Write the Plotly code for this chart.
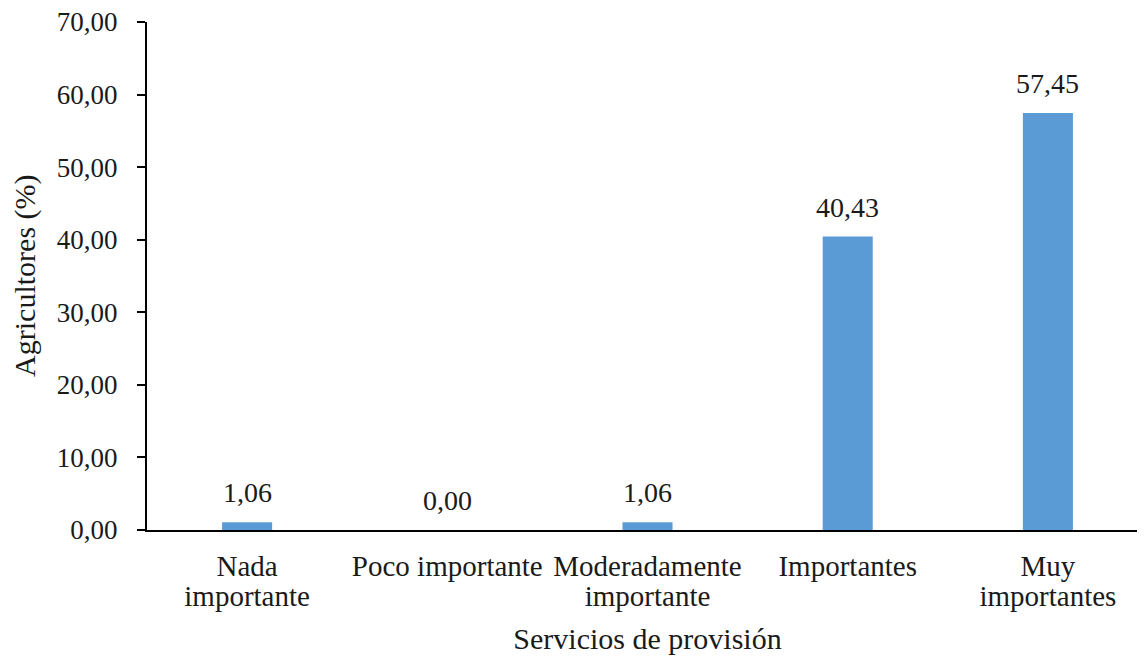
import plotly.graph_objects as go

categories = ["Nada importante", "Poco importante", "Moderadamente importante", "Importantes", "Muy importantes"]
label_line1 = ["Nada", "Poco importante", "Moderadamente", "Importantes", "Muy"]
label_line2 = ["importante", "", "importante", "", "importantes"]
values = [1.06, 0.00, 1.06, 40.43, 57.45]
y_ticks = [0, 10, 20, 30, 40, 50, 60, 70]
x_title = "Servicios de provisión"
y_title = "Agricultores (%)"

FONT = "Liberation Serif"
TXT = "#1a1a1a"
idx = list(range(len(categories)))

fig = go.Figure(go.Bar(
    x=categories, y=values,
    marker=dict(color="#5B9BD5", line=dict(width=0)),
    hovertext=categories,
    showlegend=False,
))

for c, v in zip(categories, values):
    fig.add_annotation(
        x=c, y=v, xref="x", yref="y", text=f"{v:.2f}".replace(".", ","),
        showarrow=False, yanchor="bottom", yshift=12,
        font=dict(family=FONT, size=28, color=TXT),
    )

# y-axis title
fig.add_annotation(
    x=-0.122, y=0.5, xref="paper", yref="paper", text=y_title,
    textangle=-90, showarrow=False, xanchor="center", yanchor="middle",
    font=dict(family=FONT, size=30, color=TXT),
)

fig.update_layout(
    width=1145, height=657,
    margin=dict(l=139, r=5, t=14, b=135),
    paper_bgcolor="white", plot_bgcolor="white",
    separators=",.",
    bargap=0.75,
    showlegend=False,
    font=dict(family=FONT, size=28, color=TXT),
    xaxis=dict(
        type="category", range=[-0.5, 4.5],
        showline=True, linecolor="black", linewidth=2,
        ticks="", showgrid=False, automargin=False,
        tickmode="array", tickvals=categories, ticktext=label_line1,
        tickfont=dict(family=FONT, size=29, color=TXT),
        ticklabelstandoff=9,
    ),
    xaxis2=dict(
        overlaying="x", anchor="y", side="bottom",
        type="linear", range=[-0.5, 4.5],
        tickmode="array", tickvals=idx, ticktext=label_line2,
        showline=False, ticks="", showgrid=False, zeroline=False, automargin=False,
        tickfont=dict(family=FONT, size=29, color=TXT),
        ticklabelstandoff=46,
        title=dict(text=x_title, font=dict(family=FONT, size=30, color=TXT), standoff=16),
    ),
    yaxis=dict(
        range=[0, 70], tickvals=y_ticks, tickformat=".2f",
        showline=True, linecolor="black", linewidth=2,
        ticks="outside", ticklen=8, tickwidth=2, tickcolor="black",
        showgrid=False, zeroline=False, automargin=False,
        tickfont=dict(family=FONT, size=27, color=TXT),
        ticklabelstandoff=14, ticklabeloverflow="allow",
    ),
)
# invisible trace to activate xaxis2
fig.add_trace(go.Scatter(x=[], y=[], xaxis="x2", yaxis="y", showlegend=False, hoverinfo="skip"))

fig.write_html("out.html")
